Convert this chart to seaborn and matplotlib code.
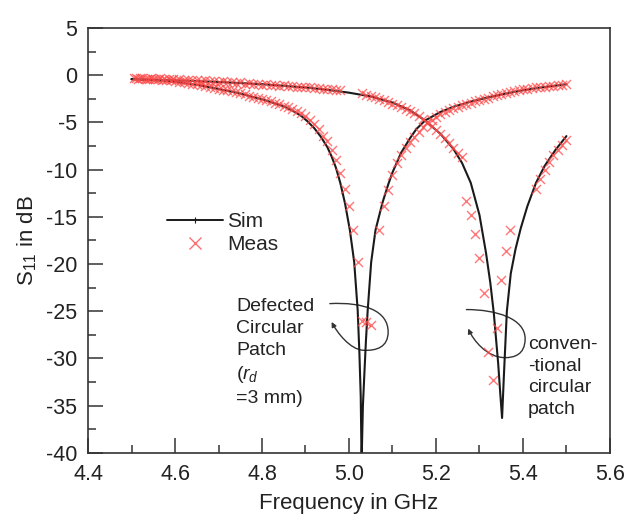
import matplotlib
matplotlib.use("Agg")
import matplotlib.pyplot as plt
import seaborn as sns
from matplotlib.lines import Line2D
from matplotlib.path import Path
from matplotlib.patches import FancyArrowPatch

# --- simulated S11 (dB) -------------------------------------------------
# defected circular patch, r_d = 3 mm
sim_def_f = [4.50, 4.55, 4.60, 4.65, 4.70, 4.75, 4.80, 4.85, 4.87, 4.89,
             4.905, 4.92, 4.935, 4.95, 4.96, 4.97, 4.98, 4.991, 5.002, 5.012,
             5.020, 5.024, 5.027, 5.029, 5.032, 5.036, 5.039, 5.043, 5.051,
             5.061, 5.077, 5.09, 5.10, 5.12, 5.14, 5.155, 5.175, 5.21, 5.24,
             5.28, 5.32, 5.36, 5.40, 5.45, 5.50]
sim_def_db = [-0.42, -0.52, -0.7, -1.02, -1.45, -1.95, -2.55, -3.3, -3.75, -4.3,
              -4.9, -5.6, -6.5, -7.6, -8.6, -9.8, -11.4, -13.6, -16.4, -19.8,
              -24.9, -29.5, -34.0, -41.0, -35.0, -31.0, -28.1, -24.9, -19.8,
              -16.4, -13.5, -11.6, -10.3, -8.2, -6.7, -5.7, -4.8, -3.9, -3.35,
              -2.8, -2.35, -1.95, -1.6, -1.25, -0.95]

# conventional circular patch
sim_conv_f = [4.50, 4.60, 4.70, 4.80, 4.90, 4.95, 5.00, 5.05, 5.10, 5.14,
              5.175, 5.21, 5.24, 5.26, 5.28, 5.30, 5.315, 5.325, 5.333, 5.343,
              5.348, 5.352, 5.356, 5.363, 5.372, 5.383, 5.395, 5.41, 5.43,
              5.45, 5.475, 5.50]
sim_conv_db = [-0.42, -0.55, -0.72, -0.95, -1.3, -1.55, -1.85, -2.25, -2.9, -3.7,
               -4.8, -6.2, -7.8, -9.3, -11.4, -14.8, -18.8, -22.0, -25.2, -30.5,
               -33.8, -36.3, -32.0, -25.0, -21.0, -18.4, -16.2, -13.9, -11.4,
               -9.6, -7.9, -6.45]

# --- measured S11 (dB) --------------------------------------------------
meas_def_f = [4.51, 4.52, 4.53, 4.54, 4.55, 4.56, 4.57, 4.58, 4.59, 4.60,
              4.61, 4.62, 4.63, 4.64, 4.65, 4.66, 4.67, 4.68, 4.69, 4.70,
              4.71, 4.72, 4.73, 4.74, 4.75, 4.76, 4.77, 4.78, 4.79, 4.80,
              4.81, 4.82, 4.83, 4.84, 4.85, 4.86, 4.87, 4.88, 4.89, 4.90,
              4.91, 4.92, 4.93, 4.94, 4.95, 4.96, 4.97, 4.98, 4.99, 5.00,
              5.01, 5.02, 5.03, 5.04, 5.05, 5.07, 5.08, 5.09, 5.10, 5.11,
              5.12, 5.13, 5.14, 5.15, 5.16, 5.17, 5.18, 5.19, 5.20, 5.21,
              5.22, 5.23, 5.24, 5.25, 5.26, 5.27, 5.28, 5.29, 5.30, 5.31,
              5.32, 5.33, 5.34, 5.35, 5.36, 5.37, 5.38, 5.39, 5.40, 5.41,
              5.42, 5.43, 5.44, 5.45, 5.46, 5.47, 5.48, 5.49, 5.50]
meas_def_db = [-0.30, -0.33, -0.35, -0.38, -0.40, -0.44, -0.47, -0.52, -0.56, -0.62,
               -0.68, -0.74, -0.80, -0.88, -0.96, -1.04, -1.12, -1.22, -1.32, -1.42,
               -1.52, -1.62, -1.72, -1.82, -1.92, -2.04, -2.16, -2.28, -2.40, -2.52,
               -2.65, -2.78, -2.92, -3.06, -3.22, -3.38, -3.56, -3.76, -3.98, -4.35,
               -4.75, -5.2, -5.7, -6.4, -7.0, -7.9, -9.0, -10.4, -12.0, -13.8,
               -16.4, -19.8, -26.0, -26.1, -26.5, -16.4, -13.9, -12.2, -10.6, -9.3,
               -8.4, -7.7, -7.1, -6.5, -6.0, -5.5, -5.1, -4.7, -4.4, -4.1,
               -3.9, -3.7, -3.5, -3.35, -3.2, -3.05, -2.9, -2.75, -2.6, -2.5,
               -2.4, -2.2, -2.1, -1.95, -1.85, -1.75, -1.65, -1.55, -1.48, -1.42,
               -1.36, -1.3, -1.25, -1.2, -1.15, -1.1, -1.05, -1.0, -0.95]

meas_conv_f = [4.505, 4.515, 4.525, 4.535, 4.545, 4.555, 4.565, 4.575, 4.585, 4.595,
               4.61, 4.62, 4.63, 4.64, 4.65, 4.66, 4.67, 4.68, 4.69, 4.70,
               4.71, 4.72, 4.73, 4.74, 4.75, 4.76, 4.77, 4.78, 4.79, 4.80,
               4.81, 4.82, 4.83, 4.84, 4.85, 4.86, 4.87, 4.88, 4.89, 4.90,
               4.91, 4.92, 4.93, 4.94, 4.95, 4.96, 4.97, 4.98,
               5.03, 5.04, 5.05, 5.06, 5.07, 5.08, 5.09, 5.10, 5.11, 5.12,
               5.13, 5.14, 5.15, 5.16, 5.17, 5.18, 5.19, 5.20, 5.21, 5.22,
               5.23, 5.24, 5.25, 5.26, 5.27, 5.28, 5.29, 5.30, 5.31, 5.32,
               5.33, 5.34, 5.35, 5.36, 5.37,
               5.43, 5.44, 5.45, 5.46, 5.47, 5.48, 5.49, 5.50]
meas_conv_db = [-0.25, -0.35, -0.28, -0.38, -0.30, -0.40, -0.33, -0.42, -0.36, -0.45,
                -0.45, -0.52, -0.46, -0.56, -0.50, -0.60, -0.54, -0.64, -0.58, -0.70,
                -0.64, -0.76, -0.70, -0.82, -0.76, -0.88, -0.82, -0.94, -0.88, -1.00,
                -0.96, -1.06, -1.02, -1.12, -1.08, -1.18, -1.14, -1.24, -1.22, -1.30,
                -1.30, -1.36, -1.38, -1.42, -1.46, -1.50, -1.54, -1.60,
                -1.9, -2.05, -2.2, -2.35, -2.5, -2.65, -2.8, -3.0, -3.15, -3.35,
                -3.55, -3.75, -4.0, -4.3, -4.6, -5.0, -5.4, -5.8, -6.2, -6.7,
                -7.2, -7.7, -8.2, -8.7, -13.3, -14.8, -16.8, -19.4, -23.1, -29.3,
                -32.3, -26.8, -21.7, -18.6, -16.4,
                -12.0, -11.0, -10.0, -9.2, -8.5, -7.9, -7.4, -6.9]

sns.set_style("ticks")
plt.rcParams['font.family'] = ['Liberation Sans', 'DejaVu Sans']
plt.rcParams['mathtext.fontset'] = 'custom'
plt.rcParams['mathtext.rm'] = 'Liberation Sans'
plt.rcParams['mathtext.it'] = 'Liberation Sans:italic'
plt.rcParams['axes.unicode_minus'] = False

line_col = '#1a1a1a'
red = '#ff4a4a'

fig = plt.figure(figsize=(6.38, 5.23), dpi=100)
ax = fig.add_axes([0.138, 0.134, 0.818, 0.8125])

sns.lineplot(x=sim_def_f, y=sim_def_db, color=line_col, lw=1.5, ax=ax,
             sort=False, estimator=None)
sns.lineplot(x=sim_conv_f, y=sim_conv_db, color=line_col, lw=1.5, ax=ax,
             sort=False, estimator=None)
sns.scatterplot(x=meas_def_f, y=meas_def_db, marker='x', color=red, s=42,
                linewidth=1.0, alpha=0.75, ax=ax, zorder=3)
sns.scatterplot(x=meas_conv_f, y=meas_conv_db, marker='x', color=red, s=42,
                linewidth=1.0, alpha=0.75, ax=ax, zorder=3)

ax.set_xlim(4.4, 5.6)
ax.set_ylim(-40, 5)
ax.set_xticks([4.4, 4.6, 4.8, 5.0, 5.2, 5.4, 5.6])
ax.set_xticklabels(['4.4', '4.6', '4.8', '5.0', '5.2', '5.4', '5.6'])
ax.set_xticks([4.5, 4.7, 4.9, 5.1, 5.3, 5.5], minor=True)
ax.set_yticks(range(-40, 6, 5))
ax.set_yticks([-37.5, -32.5, -27.5, -22.5, -17.5, -12.5, -7.5, -2.5, 2.5], minor=True)
ax.tick_params(which='both', direction='in', top=False, right=False,
               color='#333333', width=1.1, labelsize=15.5, pad=8, labelcolor='#222222')
ax.tick_params(which='major', length=10.5)
ax.tick_params(which='minor', length=5.5)
for sp in ax.spines.values():
    sp.set_linewidth(1.2)
    sp.set_color('#333333')

ax.set_xlabel('Frequency in GHz', fontsize=16, color='#222222', labelpad=6)
ax.set_ylabel('S$_{11}$ in dB', fontsize=16, color='#222222', labelpad=5)

h_sim = Line2D([], [], color=line_col, lw=1.4, marker='|', ms=4, mew=0.8)
h_meas = Line2D([], [], ls='', marker='x', color=red, ms=8, mew=1.0, alpha=0.8)
ax.legend([h_sim, h_meas], ['Sim', 'Meas'], loc='upper left',
          bbox_to_anchor=(0.151, 0.567), frameon=False, fontsize=15,
          handlelength=2.7, handletextpad=0.2, labelspacing=0.2,
          borderpad=0, borderaxespad=0, numpoints=1)

ax.text(4.740, -23.6, 'Defected\nCircular\nPatch\n($r_d$\n=3 mm)', fontsize=14,
        va='top', ha='left', color='#222222', linespacing=1.37)
ax.text(5.411, -27.6, 'conven-\n-tional\ncircular\npatch', fontsize=14,
        va='top', ha='left', color='#222222', linespacing=1.37)

# curved pointer loops
C4 = Path.CURVE4
loop_def = Path([(4.956, -24.19), (5.033, -24.01), (5.090, -24.89), (5.090, -27.19),
                 (5.090, -28.78), (5.064, -29.20), (5.033, -29.13),
                 (5.002, -29.06), (4.972, -27.19), (4.960, -26.13)],
                [Path.MOVETO, C4, C4, C4, C4, C4, C4, C4, C4, C4])
loop_conv = Path([(5.270, -24.82), (5.339, -24.82), (5.405, -25.78), (5.405, -27.90),
                  (5.405, -29.66), (5.378, -29.91), (5.359, -29.91),
                  (5.317, -29.91), (5.286, -28.07), (5.274, -26.83)],
                 [Path.MOVETO, C4, C4, C4, C4, C4, C4, C4, C4, C4])
for p in (loop_def, loop_conv):
    ax.add_patch(FancyArrowPatch(path=p, arrowstyle='-|>', mutation_scale=7,
                                 color='#333333', lw=1.0, transform=ax.transData))

fig.savefig('out.png', dpi=100)
